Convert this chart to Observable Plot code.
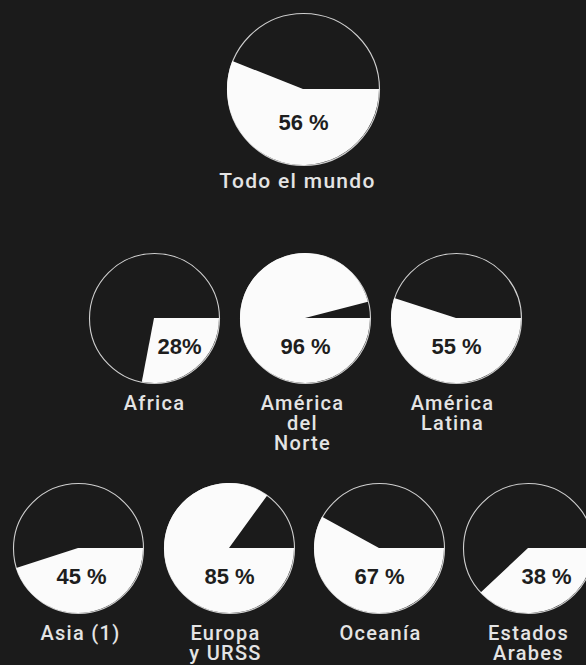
<!DOCTYPE html>
<html>
<head>
<meta charset="utf-8">
<script src="https://cdn.jsdelivr.net/npm/d3@7"></script>
<script src="https://cdn.jsdelivr.net/npm/@observablehq/plot@0.6"></script>
<style>
  html, body { margin: 0; padding: 0; background: #1b1b1b; }
  g[aria-description="names"] text { letter-spacing: 1.3px; }
</style>
</head>
<body>
<div id="chart"></div>
<script>
// ---- data ----
const regions = ["Todo el mundo", "Africa", "América\ndel\nNorte", "América\nLatina",
                 "Asia (1)", "Europa\ny URSS", "Oceanía", "Estados\nArabes"];
const percents = [56, 28, 96, 55, 45, 85, 67, 38];
const percentLabels = ["56 %", "28%", "96 %", "55 %", "45 %", "85 %", "67 %", "38 %"];
// share of each circle actually painted white in the printed graphic
// (the Oceanía wedge is drawn near 58 % although labelled 67 %)
const drawnShares = [56, 28, 96, 55, 45, 85, 58, 38];

// ---- layout (not data) ----
const W = 586, H = 665;
const rowOf = [0, 1, 1, 1, 2, 2, 2, 2];
const rowY = [89, 318, 548];
const rowR = [76, 65, 65];
const rowX = [[303], [154, 305, 456], [78, 229, 379, 528]];
const pctDx = [0, 25, 0, 0, 3, 0, 0, 18];
const nameDx = [-6, 0, -3, -4, 2, -4, 1, 0];

const table = regions.map((name, i) => {
  const row = rowOf[i];
  const col = rowOf.slice(0, i).filter(r => r === row).length;
  return {name, pct: percents[i], share: drawnShares[i], label: percentLabels[i], row,
          cx: rowX[row][col], cy: rowY[row], r: rowR[row], i};
});

function wedges(index, scales) {
  const {x, y} = scales;
  const g = d3.create("svg:g");
  const arc = d3.arc().innerRadius(0);
  for (const d of table) {
    const r = x(d.r) - x(0);
    g.append("path")
      .attr("transform", `translate(${x(d.cx)},${y(d.cy)})`)
      .attr("d", arc({outerRadius: r, startAngle: Math.PI / 2,
                      endAngle: Math.PI / 2 + 2 * Math.PI * d.share / 100}))
      .attr("fill", "#fbfbfb");
  }
  return g.node();
}

const chart = Plot.plot({
  width: W,
  height: H,
  margin: 0,
  style: {background: "#1b1b1b", fontFamily: "Roboto, 'Liberation Sans', sans-serif"},
  x: {domain: [0, W], range: [0, W], axis: null},
  y: {domain: [0, H], range: [0, H], axis: null},
  r: {type: "identity"},
  marks: [
    Plot.dot(table, {x: "cx", y: "cy", r: "r", fill: "none", stroke: "#cfcfcf", strokeWidth: 1.1}),
    wedges,
    Plot.text(table, {
      x: d => d.cx + pctDx[d.i], y: d => d.cy + d.r * 0.44,
      text: "label", fill: "#1e1e1e", fontSize: 22, fontWeight: "bold",
      fontFamily: "'Liberation Sans', Arial, sans-serif"
    }),
    Plot.text(table, {
      x: d => d.cx + nameDx[d.i], y: d => d.cy + d.r + (d.row === 0 ? 8 : 12),
      text: "name", lineAnchor: "top", lineHeight: 1,
      fontSize: d => d.row === 0 ? 21 : 20, fill: "#e4e4e4", fontWeight: 500,
      ariaDescription: "names"
    })
  ]
});
document.getElementById("chart").append(chart);
</script>
</body>
</html>
